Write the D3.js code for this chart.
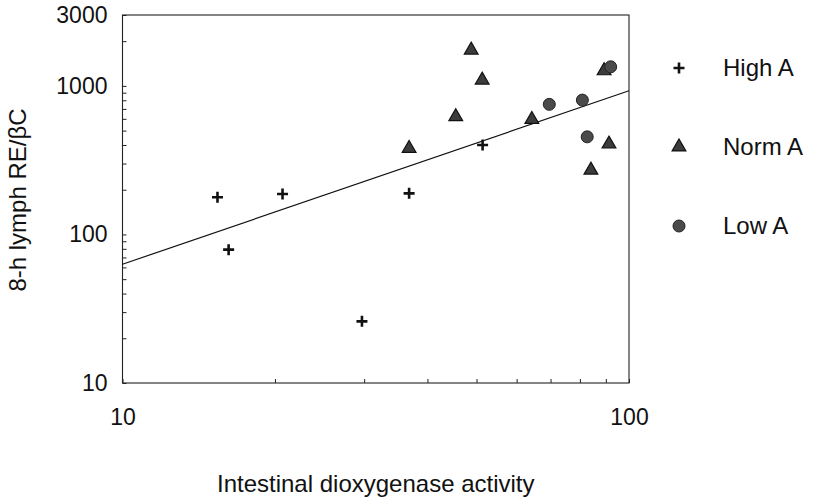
<!DOCTYPE html>
<html>
<head>
<meta charset="utf-8">
<script src="https://cdn.jsdelivr.net/npm/d3@7"></script>
<style>
  html, body { margin: 0; padding: 0; background: #fff; }
  svg { display: block; font-family: "Liberation Sans", Arial, Helvetica, sans-serif; }
</style>
</head>
<body>
<svg id="chart" width="816" height="504"></svg>
<script>
// ---- data ----
const highA_x = [15.4, 16.2, 20.7, 29.7, 36.8, 51.4];
const highA_y = [178, 79, 187, 26, 189, 400];

const normA_x = [36.8, 45.5, 48.8, 51.3, 64.3, 84.1, 89.3, 91.3];
const normA_y = [379, 620, 1742, 1094, 595, 271, 1264, 406];

const lowA_x = [69.6, 80.9, 82.7, 92.0];
const lowA_y = [751, 802, 454, 1344];

const fitX = [10, 100];
const fitY = [63, 927];

const xTickValues = [10, 20, 30, 40, 50, 60, 70, 80, 90, 100];
const xTickLabels = ["10", "100"];
const yTickValues = [10, 20, 30, 40, 50, 60, 70, 80, 90, 100, 200, 300, 400, 500, 600, 700, 800, 900, 1000, 2000, 3000];
const yTickLabels = ["10", "100", "1000", "3000"];

const legendLabels = ["High A", "Norm A", "Low A"];
const xTitle = "Intestinal dioxygenase activity";
const yTitle = "8-h lymph RE/\u03B2C";

(function () {
// ---- layout ----
const svg = d3.select("#chart");
const pL = 122.5, pR = 629, pT = 15, pB = 383;

const x = d3.scaleLog().domain([10, 100]).range([pL, pR]);
const y = d3.scaleLog().domain([10, 3000]).range([pB, pT]);

const axisColor = "#222";

// frame
svg.append("rect")
  .attr("x", pL).attr("y", pT)
  .attr("width", pR - pL).attr("height", pB - pT)
  .attr("fill", "none").attr("stroke", axisColor).attr("stroke-width", 1.1);

// x axis
const xAxis = d3.axisBottom(x)
  .tickValues(xTickValues)
  .tickSizeInner(-4).tickSizeOuter(0).tickPadding(26)
  .tickFormat(d => xTickLabels.includes(String(d)) ? String(d) : "");
const gx = svg.append("g").attr("transform", `translate(0,${pB})`).call(xAxis);
gx.select(".domain").remove();
gx.selectAll(".tick line").attr("stroke", axisColor);
gx.selectAll(".tick text").attr("font-size", 23).attr("fill", "#111")
  .attr("font-family", "Liberation Sans, Arial, sans-serif");

// y axis
const yAxis = d3.axisLeft(y)
  .tickValues(yTickValues)
  .tickSizeInner(-4).tickSizeOuter(0).tickPadding(15)
  .tickFormat(d => yTickLabels.includes(String(d)) ? String(d) : "");
const gy = svg.append("g").attr("transform", `translate(${pL},0)`).call(yAxis);
gy.select(".domain").remove();
gy.selectAll(".tick line").attr("stroke", axisColor);
gy.selectAll(".tick text").attr("font-size", 23).attr("fill", "#111")
  .attr("font-family", "Liberation Sans, Arial, sans-serif");

// regression line
const line = d3.line().x(d => x(d[0])).y(d => y(d[1]));
svg.append("path")
  .datum(d3.zip(fitX, fitY))
  .attr("d", line)
  .attr("fill", "none").attr("stroke", "#111").attr("stroke-width", 1.2);

// marker drawing helpers
function drawPlus(g, cx, cy) {
  g.append("path").attr("d", `M${cx-5.5},${cy}H${cx+5.5}M${cx},${cy-5.5}V${cy+5.5}`)
    .attr("stroke", "#111").attr("stroke-width", 2.6).attr("fill", "none");
}
const triSym = d3.symbol().type(d3.symbolTriangle).size(82);
function drawTri(g, cx, cy) {
  g.append("path").attr("d", triSym()).attr("transform", `translate(${cx},${cy})`)
    .attr("fill", "#3c3c3c").attr("stroke", "#111").attr("stroke-width", 1.2);
}
function drawCirc(g, cx, cy) {
  g.append("circle").attr("cx", cx).attr("cy", cy).attr("r", 6)
    .attr("fill", "#4a4a4a").attr("stroke", "#222").attr("stroke-width", 1);
}

const pts = svg.append("g");
d3.zip(highA_x, highA_y).forEach(d => drawPlus(pts, x(d[0]), y(d[1])));
d3.zip(normA_x, normA_y).forEach(d => drawTri(pts, x(d[0]), y(d[1])));
d3.zip(lowA_x, lowA_y).forEach(d => drawCirc(pts, x(d[0]), y(d[1])));

// legend
const legendY = [68, 147, 226];
const drawers = [drawPlus, drawTri, drawCirc];
const lg = svg.append("g");
legendLabels.forEach((lab, i) => {
  drawers[i](lg, 679, legendY[i]);
  lg.append("text").attr("x", 723).attr("y", legendY[i]).attr("dy", "0.35em")
    .attr("font-size", 24).attr("fill", "#111").text(lab);
});

// axis titles
svg.append("text").attr("x", (pL + pR) / 2).attr("y", 484).attr("dy", "0.35em")
  .attr("text-anchor", "middle").attr("font-size", 24).attr("fill", "#111").text(xTitle);
svg.append("text").attr("transform", "translate(18,200) rotate(-90)").attr("dy", "0.35em")
  .attr("text-anchor", "middle").attr("font-size", 24).attr("fill", "#111").text(yTitle);
})();
</script>
</body>
</html>
